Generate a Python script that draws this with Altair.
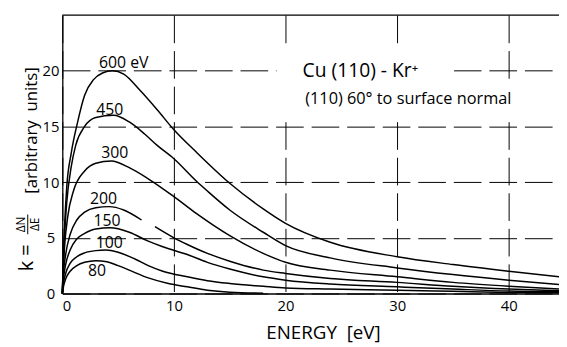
import altair as alt
import pandas as pd

# ---- curve data (energy E in eV, k in arbitrary units) ----
E600 = [0, 0.1, 0.2, 0.4, 0.8, 1.35, 2, 2.8, 3.6, 4.5, 5.5, 7, 8.5, 10, 12, 15, 18, 20, 24, 30, 35, 40, 44.5]
K600 = [0, 3.5, 6, 9.6, 12.6, 15.3, 17.8, 19.2, 19.8, 20, 19.7, 18.2, 16.5, 14.7, 12.7, 9.9, 7.6, 6.3, 4.6, 3.3, 2.6, 2.0, 1.5]

E450 = [0, 0.1, 0.2, 0.4, 0.8, 1.2, 2, 3, 4.6, 6, 7.4, 8.5, 10, 12, 13, 15, 18, 20, 24, 30, 35, 40, 44.5]
K450 = [0, 3, 5.2, 8.2, 11.4, 13.3, 15, 15.8, 16, 15.4, 14.3, 13.3, 12.1, 10.1, 9.2, 7.5, 5.5, 4.3, 3.2, 2.3, 1.7, 1.2, 0.8]

E300 = [0, 0.1, 0.2, 0.5, 1, 2, 3, 4.4, 6, 7.7, 10, 12, 15, 18, 20, 24, 30, 35, 40, 44.5]
K300 = [0, 2.5, 4.2, 7, 9.2, 11, 11.7, 11.9, 11.3, 10.3, 8.7, 7.2, 5.2, 3.6, 2.8, 2.1, 1.5, 1.0, 0.65, 0.4]

E200a = [0, 0.1, 0.3, 0.7, 1.3, 2, 3, 4.2, 5.5, 7.1]
K200a = [0, 1.8, 3.5, 5.3, 6.6, 7.3, 7.7, 7.8, 7.5, 6.6]
E200b = [8.3, 10, 11.2, 13, 15, 18, 20, 24, 30, 35, 40, 44.5]
K200b = [6.0, 5.0, 4.4, 3.6, 2.9, 2.1, 1.8, 1.35, 1.0, 0.65, 0.4, 0.25]

E150 = [0, 0.1, 0.3, 0.7, 1.3, 2, 3, 4.3, 6, 7.7, 9, 11.2, 13, 15, 18, 20, 24, 30, 35, 40, 44.5]
K150 = [0, 1.3, 2.6, 3.9, 4.9, 5.4, 5.8, 5.9, 5.5, 4.7, 4.2, 3.5, 2.8, 2.2, 1.5, 1.2, 0.85, 0.6, 0.4, 0.22, 0.15]

E100 = [0, 0.1, 0.3, 0.7, 1.3, 2, 3, 3.9, 5, 6.5, 7.7, 9, 11.2, 13, 15, 18, 20, 24, 30, 35, 40, 44.5]
K100 = [0, 0.9, 1.8, 2.7, 3.3, 3.65, 3.85, 3.9, 3.7, 3.1, 2.5, 2.0, 1.5, 1.15, 0.9, 0.65, 0.5, 0.4, 0.3, 0.2, 0.1, 0.07]

E80 = [0, 0.1, 0.3, 0.7, 1.3, 2, 3, 4, 5, 6, 7.7, 9.5, 11.2, 13, 15, 18]
K80 = [0, 0.6, 1.3, 2.0, 2.5, 2.8, 2.95, 2.85, 2.5, 2.1, 1.4, 0.9, 0.6, 0.3, 0.12, 0.03]

# curve labels
lab_text = ["600 eV", "450", "300", "200", "150", "100", "80"]
lab_x = [5.5, 4.25, 4.7, 3.7, 4.0, 4.2, 3.1]
lab_y = [20.7, 16.5, 12.6, 8.5, 6.5, 4.5, 2.0]

# annotation
ann_text = ["Cu (110) - Kr\u207a", "(110) 60\u00b0 to surface normal"]
ann_x = [26.7, 31.0]
ann_y = [20.0, 17.5]
ann_size = [19.5, 16.5]

# white backgrounds behind the annotation
box_x1 = [19.2, 35.1]
box_x2 = [35.1, 41.5]
box_y1 = [15.4, 15.6]
box_y2 = [22.1, 18.9]

x_ticks = [0, 10, 20, 30, 40]
y_ticks = [0, 5, 10, 15, 20]

W, H = 503, 282
FONT = "Open Sans"

segments = [("600", E600, K600), ("450", E450, K450), ("300", E300, K300),
            ("200a", E200a, K200a), ("200b", E200b, K200b), ("150", E150, K150),
            ("100", E100, K100), ("80", E80, K80)]
rows = []
for name, es, ks in segments:
    for e, k in zip(es, ks):
        rows.append({"E": e, "K": k, "curve": name})
df = pd.DataFrame(rows)

xscale = alt.Scale(domain=[0, 44.5], nice=False, zero=False)
yscale = alt.Scale(domain=[0, 25], nice=False)

xaxis = alt.Axis(values=x_ticks, title="ENERGY\u00a0\u00a0[eV]", titleFontSize=19, titleFontWeight="normal",
                 titleX=264, titleY=40, titleBaseline="middle", titleColor="black",
                 labelFontSize=15, labelPadding=5, labelColor="black", ticks=False,
                 grid=True, gridDash=[28, 8], gridColor="black", gridWidth=1,
                 domainColor="black", domainWidth=1.3)
yaxis = alt.Axis(values=y_ticks, title=None, labelFontSize=15, labelAlign="center",
                 labelPadding=12, labelColor="black", ticks=False,
                 grid=True, gridDash=[28, 8], gridColor="black", gridWidth=1,
                 domainColor="black", domainWidth=1.3)

boxes = alt.Chart(pd.DataFrame({"x1": box_x1, "x2": box_x2, "y1": box_y1, "y2": box_y2})).mark_rect(
    color="white").encode(
    x=alt.X("x1:Q", scale=xscale, axis=xaxis), x2="x2:Q",
    y=alt.Y("y1:Q", scale=yscale, axis=yaxis), y2="y2:Q")

lines = alt.Chart(df).mark_line(color="black", strokeWidth=1.5, interpolate="monotone").encode(
    x=alt.X("E:Q", scale=xscale, axis=xaxis),
    y=alt.Y("K:Q", scale=yscale, axis=yaxis),
    detail="curve:N")

top = alt.Chart(pd.DataFrame({"a": [0]})).mark_rule(color="black", strokeWidth=1.3).encode(
    x=alt.value(0), x2=alt.value(W), y=alt.value(0))

labels = alt.Chart(pd.DataFrame({"t": lab_text, "x": lab_x, "y": lab_y})).mark_text(
    fontSize=16, color="black", align="center", baseline="middle").encode(
    x=alt.X("x:Q", scale=xscale), y=alt.Y("y:Q", scale=yscale), text="t:N")

ann = alt.Chart(pd.DataFrame({"t": ann_text, "x": ann_x, "y": ann_y, "s": ann_size})).mark_text(
    color="black", align="center", baseline="middle").encode(
    x=alt.X("x:Q", scale=xscale), y=alt.Y("y:Q", scale=yscale), text="t:N",
    size=alt.Size("s:Q", scale=None, legend=None))

# y-axis title pieces (placed in the left margin)
ytitle = alt.Chart(pd.DataFrame({"t": ["[arbitrary\u00a0\u00a0units]"]})).mark_text(
    fontSize=17, angle=270, color="black", align="center", baseline="middle").encode(
    x=alt.value(-31), y=alt.value(117), text="t:N")
dn = alt.Chart(pd.DataFrame({"t": ["\u0394N"]})).mark_text(
    fontSize=12, angle=270, color="black", align="center", baseline="middle").encode(
    x=alt.value(-42), y=alt.value(212), text="t:N")
de = alt.Chart(pd.DataFrame({"t": ["\u0394E"]})).mark_text(
    fontSize=12, angle=270, color="black", align="center", baseline="middle").encode(
    x=alt.value(-28), y=alt.value(212), text="t:N")
bar = alt.Chart(pd.DataFrame({"a": [0]})).mark_rule(color="black", strokeWidth=1).encode(
    x=alt.value(-35), y=alt.value(202), y2=alt.value(222))
keq = alt.Chart(pd.DataFrame({"t": ["k ="]})).mark_text(
    fontSize=20, angle=270, color="black", align="center", baseline="middle").encode(
    x=alt.value(-36), y=alt.value(246), text="t:N")

chart = alt.layer(boxes, lines, top, labels, ann, ytitle, dn, de, bar, keq).properties(
    width=W, height=H,
    autosize=alt.AutoSizeParams(type="none"),
    padding={"left": 55, "top": 5, "right": 0, "bottom": 50},
).configure(font=FONT).configure_view(stroke=None)

chart.save("out.html", embed_options={"renderer": "svg", "actions": False})
